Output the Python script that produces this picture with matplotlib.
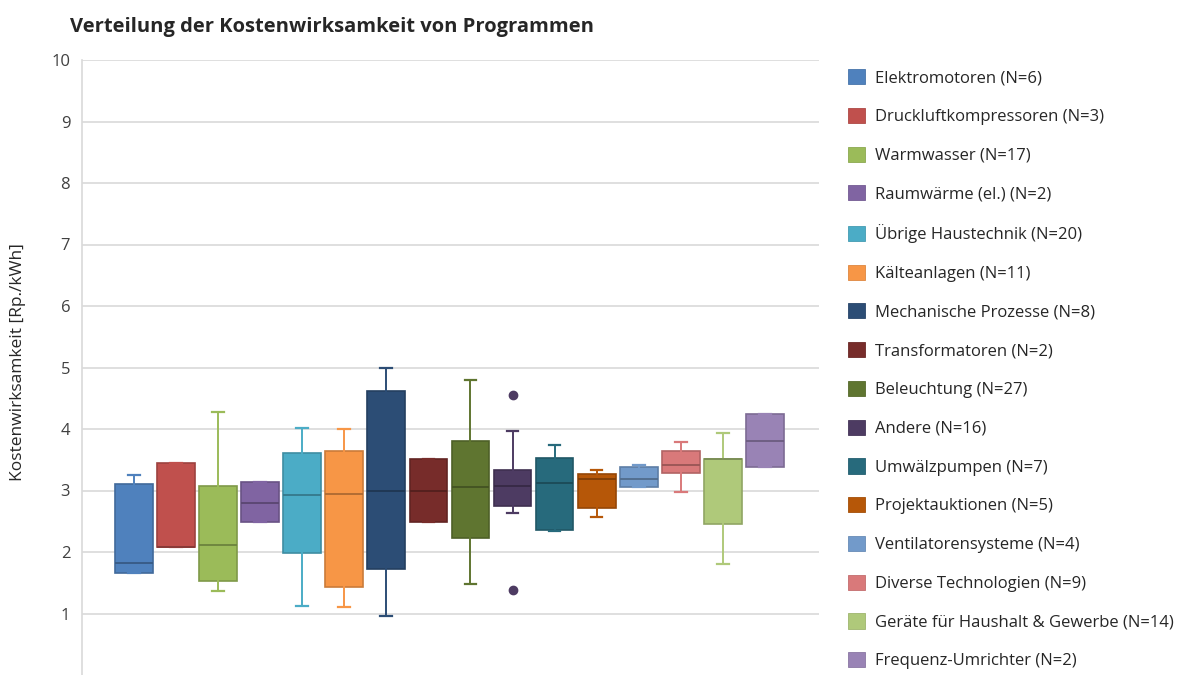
import matplotlib
matplotlib.use("Agg")
import matplotlib.pyplot as plt
from matplotlib.patches import Patch
from matplotlib.colors import to_rgb

# ---------------- data ----------------
categories = ["Elektromotoren (N=6)", "Druckluftkompressoren (N=3)", "Warmwasser (N=17)",
              "Raumwärme (el.) (N=2)", "Übrige Haustechnik (N=20)", "Kälteanlagen (N=11)",
              "Mechanische Prozesse (N=8)", "Transformatoren (N=2)", "Beleuchtung (N=27)",
              "Andere (N=16)", "Umwälzpumpen (N=7)", "Projektauktionen (N=5)",
              "Ventilatorensysteme (N=4)", "Diverse Technologien (N=9)",
              "Geräte für Haushalt & Gewerbe (N=14)", "Frequenz-Umrichter (N=2)"]
whis_lo = [1.66, 2.08, 1.37, 2.48, 1.13, 1.10, 0.96, 2.49, 1.48, 2.63, 2.34, 2.57, 3.05, 2.98, 1.80, 3.38]
q1      = [1.66, 2.08, 1.53, 2.48, 1.98, 1.43, 1.72, 2.49, 2.22, 2.74, 2.35, 2.72, 3.06, 3.28, 2.46, 3.38]
median  = [1.82, 2.08, 2.12, 2.80, 2.92, 2.95, 2.99, 3.00, 3.06, 3.08, 3.13, 3.19, 3.19, 3.41, 3.51, 3.81]
q3      = [3.10, 3.44, 3.08, 3.14, 3.61, 3.65, 4.61, 3.51, 3.80, 3.34, 3.53, 3.27, 3.38, 3.65, 3.51, 4.25]
whis_hi = [3.26, 3.44, 4.28, 3.14, 4.01, 4.00, 5.00, 3.51, 4.80, 3.96, 3.74, 3.33, 3.42, 3.79, 3.94, 4.25]
outliers = [[], [], [], [], [], [], [], [], [], [4.55, 1.38], [], [], [], [], [], []]
colors = ["#4F81BD", "#C0504D", "#9BBB59", "#8064A2", "#4BACC6", "#F79646",
          "#2C4D75", "#772C2A", "#5F7530", "#4D3B62", "#276A7C", "#B65708",
          "#729ACA", "#D9797A", "#AFC97A", "#9983B5"]
yticks = [1, 2, 3, 4, 5, 6, 7, 8, 9, 10]
title = "Verteilung der Kostenwirksamkeit von Programmen"
ylabel = "Kostenwirksamkeit [Rp./kWh]"

def darker(c, f=0.82):
    r, g, b = to_rgb(c)
    return (r * f, g * f, b * f)

plt.rcParams['font.family'] = ['Open Sans', 'DejaVu Sans']

fig = plt.figure(figsize=(11.82, 6.75), dpi=100)
ax = fig.add_axes([82 / 1182, 0.0, (819 - 82) / 1182, 1 - 60 / 675])

positions = list(range(len(categories)))
for i in positions:
    stats = [dict(whislo=whis_lo[i], q1=q1[i], med=median[i], q3=q3[i],
                  whishi=whis_hi[i], fliers=outliers[i])]
    c = colors[i]
    dc = darker(c)
    ax.bxp(stats, positions=[i], widths=0.9, capwidths=0.28, patch_artist=True,
           showfliers=True,
           boxprops=dict(facecolor=c, edgecolor=dc, linewidth=1.2),
           medianprops=dict(color=darker(c, 0.7), linewidth=1.3),
           whiskerprops=dict(color=c, linewidth=1.4),
           capprops=dict(color=c, linewidth=1.6),
           flierprops=dict(marker='o', markerfacecolor=c, markeredgecolor=c, markersize=6))

ax.set_xlim(-1.24, 16.29)
ax.set_ylim(0.0, 10)
ax.set_yticks(yticks)
ax.set_xticks([])
ax.grid(axis='y', color='#d9d9d9', linewidth=1.2)
ax.set_axisbelow(True)
for s in ['top', 'right', 'bottom']:
    ax.spines[s].set_visible(False)
ax.spines['left'].set_color('#d9d9d9')
ax.spines['left'].set_linewidth(1.2)
ax.tick_params(axis='y', length=0, pad=8.5, labelsize=12, labelcolor='#404040')

fig.text(70 / 1182, 1 - 27 / 675, title, fontsize=14.5, fontweight='bold',
         color='#262626', va='center', ha='left')
fig.text(18 / 1182, 1 - 362 / 675, ylabel, fontsize=12.5, rotation=90,
         color='#262626', va='center', ha='center')

handles = [Patch(facecolor=c, edgecolor=darker(c, 0.9), linewidth=0.6) for c in colors]
fig.legend(handles, categories, loc='upper left', bbox_to_anchor=(848 / 1182, 1 - 69 / 675),
           frameon=False, fontsize=12, handlelength=1.02, handleheight=1.02,
           handletextpad=0.6, labelspacing=1.29, borderaxespad=0, borderpad=0,
           labelcolor='#262626')

fig.savefig("out.png", dpi=100)
